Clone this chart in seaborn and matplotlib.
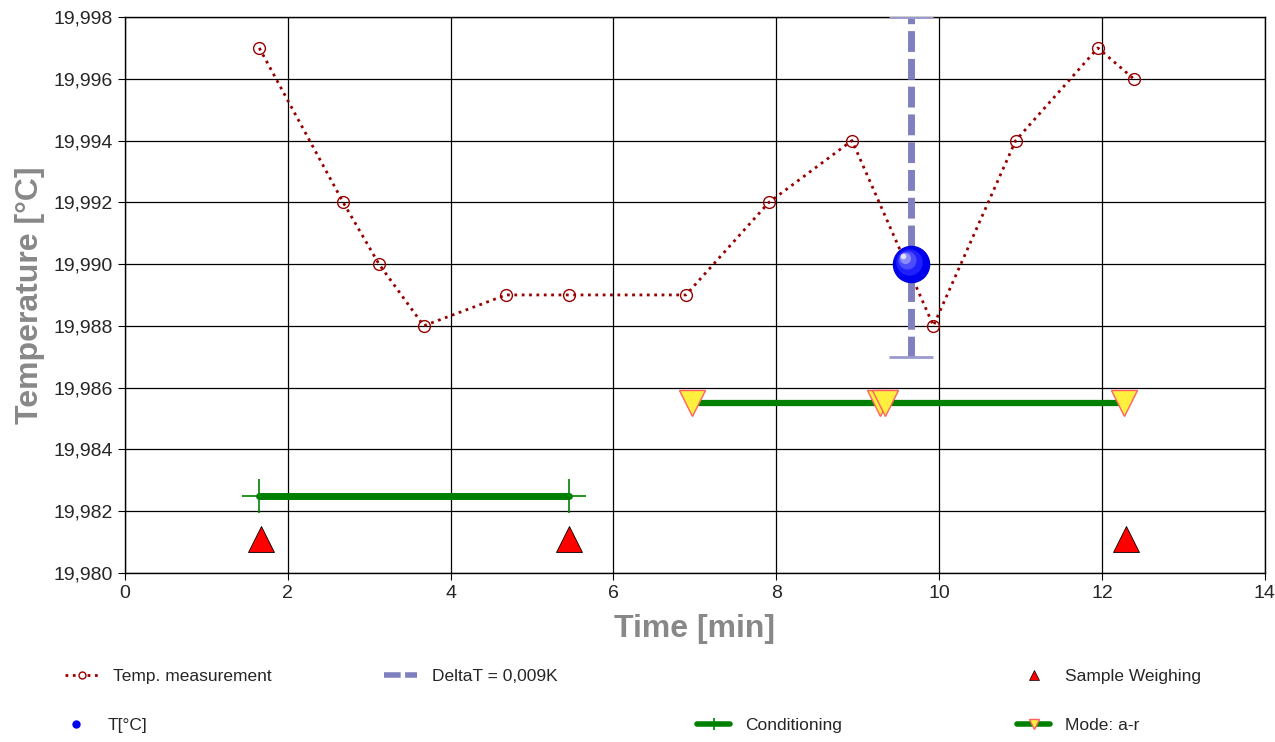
import numpy as np
import pandas as pd
import matplotlib
matplotlib.use('Agg')
import matplotlib.pyplot as plt
import matplotlib.transforms as mtransforms
from matplotlib.lines import Line2D
from matplotlib.ticker import FuncFormatter, MultipleLocator
import seaborn as sns

# temperature measurements
time_min = [1.65, 2.68, 3.12, 3.67, 4.68, 5.45, 6.89, 7.91, 8.93, 9.93, 10.94, 11.95, 12.39]
temp_c = [19.997, 19.992, 19.990, 19.988, 19.989, 19.989, 19.989, 19.992, 19.994, 19.988, 19.994, 19.997, 19.996]

# mean temperature point and DeltaT range
t_point_x = 9.66
t_point_y = 19.990
delta_low = 19.987
delta_high = 19.998

# conditioning interval
cond_x = [1.65, 5.45]
cond_y = 19.9825

# mode a-r interval
mode_x = [6.96, 9.27, 9.33, 12.27]
mode_y = 19.9855

# sample weighing events
weigh_x = [1.67, 5.45, 12.29]
weigh_y = 19.9811

df = pd.DataFrame({'time': time_min, 'temp': temp_c})

sns.set_style('white')
plt.rcParams['font.family'] = ['Liberation Sans', 'DejaVu Sans']

fig = plt.figure(figsize=(12.75, 7.42), dpi=100)
ax = fig.add_axes([0.098, 0.228, 0.894, 0.749])

red = '#990000'
lav = '#8080C0'
green = '#008000'

sns.lineplot(data=df, x='time', y='temp', ax=ax, color=red, linestyle=':', lw=2,
             marker='o', markersize=8.5, markerfacecolor='none', markeredgecolor=red,
             markeredgewidth=1, zorder=4)

# DeltaT bar
ax.vlines(t_point_x, delta_low, delta_high, colors=lav, linestyles=(0, (3, 1)), lw=5, zorder=5)
ax.plot([t_point_x, t_point_x], [delta_low, delta_high], ls='none', marker='_',
        markersize=32, markeredgewidth=2, color='#9B9BD0', zorder=5)

# blue sphere
ax.plot(t_point_x, t_point_y, 'o', markersize=26, color='#0000F0', markeredgecolor='#0000E0', zorder=7)
for i, (c, s) in enumerate([('#2020ff', 19), ('#4c4cff', 13), ('#8a8aff', 8), ('#e0e0ff', 4)]):
    off = mtransforms.offset_copy(ax.transData, fig=fig, x=-1.5 * (i + 1), y=1.5 * (i + 1), units='points')
    ax.plot(t_point_x, t_point_y, 'o', markersize=s, color=c, markeredgewidth=0,
            transform=off, zorder=7 + i)

# conditioning
ax.plot(cond_x, [cond_y] * 2, color=green, lw=5, zorder=4)
ax.plot(cond_x, [cond_y] * 2, ls='none', marker='+', markersize=25, markeredgewidth=1.2,
        color=green, zorder=4)

# mode a-r
ax.plot([mode_x[0], mode_x[-1]], [mode_y] * 2, color=green, lw=4.5, zorder=4)
ax.plot(mode_x, [mode_y] * len(mode_x), ls='none', marker='v', markersize=19,
        markerfacecolor='#FFF040', markeredgecolor='#FF6060', markeredgewidth=1, zorder=5)

# sample weighing
ax.plot(weigh_x, [weigh_y] * len(weigh_x), ls='none', marker='^', markersize=19,
        markerfacecolor='#FF0000', markeredgecolor='black', markeredgewidth=0.6, zorder=5)

ax.set_xlim(0, 14)
ax.set_ylim(19.980, 19.998)
ax.xaxis.set_major_locator(MultipleLocator(2))
ax.yaxis.set_major_locator(MultipleLocator(0.002))
ax.yaxis.set_major_formatter(FuncFormatter(lambda v, p: f'{v:.3f}'.replace('.', ',')))
ax.grid(True, color='black', lw=0.9)
ax.set_axisbelow(True)
for s in ax.spines.values():
    s.set_color('black')
    s.set_linewidth(1)
ax.tick_params(axis='both', direction='out', length=5, width=0.8, color='black',
               labelsize=14, left=True, bottom=True)

ax.set_xlabel('Time [min]', fontsize=23, fontweight='bold', color='#888888', labelpad=9)
ax.set_ylabel('Temperature [°C]', fontsize=23, fontweight='bold', color='#888888', labelpad=6)

entries = [
    (Line2D([], [], color=red, ls=':', lw=2, marker='o', markersize=5,
            markerfacecolor='white', markeredgecolor=red), 'Temp. measurement', 0.051, 0.088),
    (Line2D([], [], color=lav, ls=(0, (3, 0.8)), lw=4), 'DeltaT = 0,009K', 0.301, 0.088),
    (Line2D([], [], ls='none', marker='^', markersize=7, markerfacecolor='#FF0000',
            markeredgecolor='black', markeredgewidth=0.5), 'Sample Weighing', 0.798, 0.088),
    (Line2D([], [], ls='none', marker='o', markersize=5, color='#0000F0'), 'T[°C]', 0.047, 0.022),
    (Line2D([], [], color=green, lw=4, marker='+', markersize=8, markeredgewidth=1.2),
     'Conditioning', 0.547, 0.022),
    (Line2D([], [], color=green, lw=4, marker='v', markersize=7, markerfacecolor='#FFF040',
            markeredgecolor='#FF6060'), 'Mode: a-r', 0.798, 0.022),
]
for h, lab, x, y in entries:
    fig.legend(handles=[h], labels=[lab], loc='center left', bbox_to_anchor=(x, y),
               frameon=False, borderpad=0, borderaxespad=0, handlelength=1.9,
               handletextpad=0.85, fontsize=12.5)

fig.savefig('out.png', dpi=100)
